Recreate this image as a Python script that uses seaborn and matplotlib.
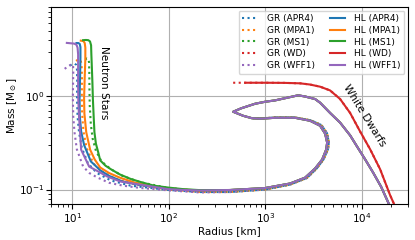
import numpy as np
import matplotlib
matplotlib.use('Agg')
import matplotlib.pyplot as plt
import seaborn as sns

# Mass-radius curves (radius in km, mass in solar masses)
eos_names = ['APR4', 'MPA1', 'MS1', 'WD', 'WFF1']
colors = sns.color_palette('tab10')
eos_colors = [colors[0], colors[1], colors[2], colors[3], colors[4]]

# GR, neutron star cores
gr_apr4_r = [9.4, 10.0, 10.6, 11.0, 11.15, 11.2, 11.15, 11.3, 11.7, 12.5, 14.5, 18, 25, 40, 98, 210]
gr_apr4_m = [2.12, 2.2, 2.22, 2.15, 1.9, 1.4, 0.95, 0.6, 0.41, 0.28, 0.19, 0.15, 0.125, 0.11, 0.099, 0.094]
gr_mpa1_r = [10.9, 11.3, 11.8, 12.2, 12.45, 12.55, 12.5, 12.6, 13.0, 14.0, 16.5, 20, 28, 45, 98, 210]
gr_mpa1_m = [2.38, 2.44, 2.46, 2.4, 2.1, 1.6, 1.0, 0.65, 0.42, 0.28, 0.19, 0.157, 0.13, 0.113, 0.1, 0.094]
gr_ms1_r = [13.6, 14.1, 14.6, 14.85, 14.95, 15.0, 15.1, 15.5, 16.2, 17.5, 20, 25, 33, 50, 98, 210]
gr_ms1_m = [2.45, 2.53, 2.5, 2.3, 1.8, 1.2, 0.8, 0.5, 0.35, 0.26, 0.2, 0.165, 0.14, 0.12, 0.104, 0.096]
gr_wff1_r = [8.3, 8.9, 9.5, 9.9, 10.15, 10.2, 10.15, 10.1, 10.2, 10.5, 11.1, 12.9, 15, 18, 24, 33.5, 50, 98, 210]
gr_wff1_m = [1.96, 2.06, 2.15, 2.2, 2.12, 1.85, 1.4, 0.95, 0.6, 0.41, 0.27, 0.176, 0.15, 0.135, 0.118, 0.11, 0.104, 0.098, 0.093]

# GR low density tail (crust), shared
gr_tail_r = [430, 992, 1802, 2700, 3400, 4000, 4450, 4550, 4350, 3800, 2950, 2031, 1259, 881, 742]
gr_tail_m = [0.094, 0.1, 0.113, 0.133, 0.168, 0.21, 0.27, 0.32, 0.40, 0.49, 0.55, 0.59, 0.59, 0.578, 0.58]

# HL, neutron star cores
hl_apr4_r = [11.0, 11.5, 11.9, 12.1, 12.1, 12.0, 11.85, 11.9, 12.3, 13.2, 15.5, 19.5, 24, 33, 52, 100, 140, 210]
hl_apr4_m = [3.70, 3.70, 3.62, 3.35, 2.6, 1.6, 0.95, 0.62, 0.42, 0.3, 0.2, 0.16, 0.14, 0.122, 0.111, 0.102, 0.099, 0.0977]
hl_mpa1_r = [12.2, 13.0, 13.4, 13.6, 13.6, 13.4, 13.2, 13.3, 13.9, 15.25, 17, 19.4, 24, 31, 45, 70, 100, 140, 210]
hl_mpa1_m = [3.92, 3.88, 3.7, 3.3, 2.5, 1.6, 0.95, 0.65, 0.41, 0.267, 0.21, 0.172, 0.15, 0.134, 0.118, 0.108, 0.103, 0.1, 0.0977]
hl_ms1_r = [12.9, 13.8, 14.6, 15.2, 15.6, 15.7, 15.9, 16.1, 16.3, 16.6, 16.9, 17.5, 18.5, 19.4, 22, 25, 31, 40, 50, 70, 98, 140, 210]
hl_ms1_m = [3.97, 3.99, 3.97, 3.85, 3.5, 2.8, 2.0, 1.4, 0.91, 0.6, 0.41, 0.31, 0.25, 0.205, 0.18, 0.165, 0.145, 0.13, 0.121, 0.11, 0.105, 0.101, 0.0985]
hl_wff1_r = [8.75, 9.5, 10.4, 11.0, 11.3, 11.45, 11.45, 11.45, 11.5, 11.7, 12.0, 12.3, 14.9, 19.4, 22.9, 31.2, 50, 98, 140, 210]
hl_wff1_m = [3.71, 3.68, 3.65, 3.55, 3.3, 2.8, 2.0, 1.4, 0.91, 0.6, 0.41, 0.267, 0.176, 0.152, 0.138, 0.122, 0.113, 0.101, 0.099, 0.0977]

# HL low density tail: loop, then the white-dwarf-like branch
hl_tail_r = [430, 992, 1802, 2580, 3272, 3871, 4262, 4365, 4159, 3687, 2904, 2031, 1259, 881, 725, 587, 463,
             560, 781, 992, 1259, 1600, 2183, 2580, 3272, 3687, 4681, 5946, 7548, 8916, 10810, 13060, 15820, 18700, 22000]
hl_tail_m = [0.0988, 0.1037, 0.116, 0.134, 0.168, 0.209, 0.267, 0.318, 0.396, 0.482, 0.545, 0.586, 0.586, 0.573, 0.58, 0.616, 0.68,
             0.74, 0.828, 0.87, 0.90, 0.95, 1.02, 0.99, 0.93, 0.85, 0.66, 0.52, 0.38, 0.288, 0.21, 0.152, 0.107, 0.073, 0.05]

# White dwarf EOS
gr_wd_r = [463, 650, 1000, 1600, 2290, 2900, 3700, 4681, 5946, 7548, 9556, 12160, 15440, 19600, 23000]
gr_wd_m = [1.39, 1.39, 1.39, 1.385, 1.37, 1.33, 1.26, 1.15, 0.93, 0.66, 0.42, 0.27, 0.165, 0.087, 0.06]
hl_wd_r = [616, 1000, 1600, 2290, 2900, 3700, 4681, 5946, 7548, 9556, 12160, 15440, 19600, 23000]
hl_wd_m = [1.39, 1.39, 1.385, 1.37, 1.33, 1.26, 1.15, 0.93, 0.66, 0.42, 0.27, 0.165, 0.087, 0.06]

gr_curves = [(gr_apr4_r + gr_tail_r, gr_apr4_m + gr_tail_m),
             (gr_mpa1_r + gr_tail_r, gr_mpa1_m + gr_tail_m),
             (gr_ms1_r + gr_tail_r, gr_ms1_m + gr_tail_m),
             (gr_wd_r, gr_wd_m),
             (gr_wff1_r + gr_tail_r, gr_wff1_m + gr_tail_m)]
hl_curves = [(hl_apr4_r + hl_tail_r, hl_apr4_m + hl_tail_m),
             (hl_mpa1_r + hl_tail_r, hl_mpa1_m + hl_tail_m),
             (hl_ms1_r + hl_tail_r, hl_ms1_m + hl_tail_m),
             (hl_wd_r, hl_wd_m),
             (hl_wff1_r + hl_tail_r, hl_wff1_m + hl_tail_m)]

fig = plt.figure(figsize=(4.15, 2.4), dpi=100)
ax = fig.add_axes([0.123, 0.15, 0.86, 0.821])

for name, col, (r, m) in zip(eos_names, eos_colors, gr_curves):
    sns.lineplot(x=r, y=m, sort=False, estimator=None, color=col, linestyle=':', linewidth=1.5,
                 label=f'GR ({name})', ax=ax)
for name, col, (r, m) in zip(eos_names, eos_colors, hl_curves):
    sns.lineplot(x=r, y=m, sort=False, estimator=None, color=col, linestyle='-', linewidth=1.5,
                 label=f'HL ({name})', ax=ax)

ax.set_xscale('log')
ax.set_yscale('log')
ax.set_xlim(6, 30000)
ax.set_ylim(0.07, 9)
ax.grid(True, which='major', color='#b0b0b0', linewidth=0.8)
ax.tick_params(labelsize=7.5, pad=1.5)
ax.set_xlabel('Radius [km]', fontsize=7.5, labelpad=1)
ax.set_ylabel(r'Mass [M$_\odot$]', fontsize=7.5, labelpad=0)

ax.text(21.3, 1.39, 'Neutron Stars', rotation=-90, fontsize=7.6, ha='center', va='center')
ax.text(10540, 0.616, 'White Dwarfs', rotation=-58, fontsize=7.6, ha='center', va='center')

ax.legend(ncol=2, loc='upper right', fontsize=6.5, handlelength=1.7, handletextpad=1.0,
          columnspacing=1.7, labelspacing=0.3, borderaxespad=0.4)

fig.savefig('out.png', dpi=100)
